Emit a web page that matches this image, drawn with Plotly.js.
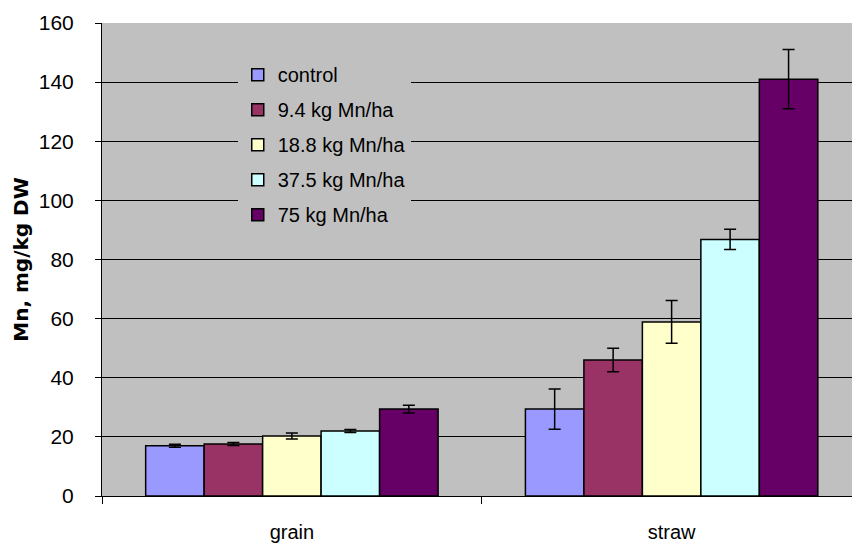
<!DOCTYPE html>
<html>
<head>
<meta charset="utf-8">
<script src="https://cdn.plot.ly/plotly-3.0.1.min.js"></script>
<style>html,body{margin:0;padding:0;background:#fff;}#chart{width:852px;height:543px;}</style>
</head>
<body>
<div id="chart"></div>
<script>
const categories = ["grain", "straw"];
const seriesNames = ["control", "9.4 kg Mn/ha", "18.8 kg Mn/ha", "37.5 kg Mn/ha", "75 kg Mn/ha"];
const controlVals = [17.0, 29.4];
const mn94Vals = [17.6, 46.0];
const mn188Vals = [20.3, 58.9];
const mn375Vals = [22.0, 86.8];
const mn75Vals = [29.4, 141.0];
const controlErr = [0.5, 6.8];
const mn94Err = [0.5, 4.0];
const mn188Err = [1.0, 7.2];
const mn375Err = [0.5, 3.4];
const mn75Err = [1.3, 10.0];
const colors = ["#9999FF", "#993366", "#FFFFCC", "#CCFFFF", "#660066"];

const values = [controlVals, mn94Vals, mn188Vals, mn375Vals, mn75Vals];
const errs = [controlErr, mn94Err, mn188Err, mn375Err, mn75Err];

const data = seriesNames.map((name, i) => ({
  type: "bar",
  name: name,
  x: categories,
  y: values[i],
  legendgroup: "g" + i,
  marker: {color: colors[i], line: {color: "#000000", width: 1.5}},
  error_y: {type: "data", array: errs[i], visible: true, color: "#000000", thickness: 1.5, width: 6}
}));

const layout = {
  width: 852, height: 543,
  margin: {l: 102, r: 0, t: 23, b: 47},
  paper_bgcolor: "#ffffff",
  plot_bgcolor: "#C0C0C0",
  barmode: "group",
  bargap: 0.23,
  bargroupgap: 0,
  font: {family: "Arial, Liberation Sans, sans-serif", size: 20, color: "#000000"},
  xaxis: {
    range: [-0.5, 1.475],
    showline: true, linecolor: "#000000", linewidth: 1,
    ticks: "", showgrid: false,
    ticklabelstandoff: 18,
    tickfont: {size: 20}
  },
  xaxis2: {
    overlaying: "x", side: "bottom", type: "linear",
    range: [-0.5, 1.475],
    tickmode: "array", tickvals: [-0.5, 0.5], showticklabels: false,
    ticks: "outside", ticklen: 7, tickcolor: "#000000", tickwidth: 1,
    showline: false, showgrid: false, zeroline: false
  },
  yaxis: {
    range: [0, 160], dtick: 20,
    showline: true, linecolor: "#000000", linewidth: 1,
    ticks: "outside", ticklen: 6, tickcolor: "#000000",
    showgrid: true, gridcolor: "#000000", gridwidth: 1,
    zeroline: false,
    ticklabelstandoff: 17,
    tickfont: {size: 21},
    title: {text: "<b>Mn, mg/kg DW</b>", font: {family: "DejaVu Sans, sans-serif", size: 20}, standoff: 4}
  },
  legend: {
    x: 0.181, y: 0.932, xanchor: "left", yanchor: "top",
    bgcolor: "#C0C0C0", borderwidth: 0,
    font: {size: 20},
    tracegroupgap: 6,
    itemwidth: 30
  },
  showlegend: true
};

const helper = {type: "scatter", x: [0], y: [0], xaxis: "x2", yaxis: "y", mode: "markers",
  marker: {opacity: 0}, showlegend: false, hoverinfo: "skip"};

Plotly.newPlot("chart", data.concat([helper]), layout, {displayModeBar: false, staticPlot: true});
</script>
</body>
</html>
